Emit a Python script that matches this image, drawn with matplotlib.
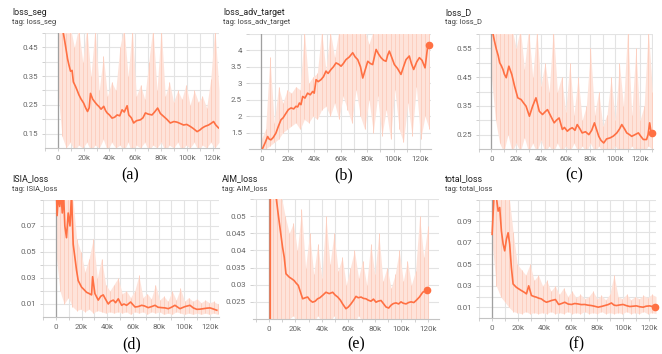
import numpy as np
import matplotlib.pyplot as plt
from matplotlib.ticker import FixedLocator, FuncFormatter

plt.rcParams['font.family'] = ['Roboto', 'DejaVu Sans']

# ---- данные (шаги в тысячах) ----
# (a) loss_seg
seg_x = [3.4, 5, 6, 7.5, 8.5, 9.8, 11, 12, 13.7, 15, 16.3, 18, 20, 21.5, 23, 24.3, 25.3, 27, 29, 30.5,
         31.7, 33.5, 35.6, 37, 38.2, 40, 42, 44, 46, 48, 49.8, 51.5, 53.7, 55, 57, 58.8, 61, 64, 66, 67.9,
         70, 73, 75, 77.4, 79.5, 82, 84.5, 87.2, 90, 92.4, 95, 97.5, 100, 102.7, 105, 108, 110, 111.8, 114, 116.9,
         119, 120.8, 122.5, 124.6]
seg_y = [0.52, 0.48, 0.453, 0.41, 0.39, 0.367, 0.37, 0.33, 0.314, 0.30, 0.285, 0.27, 0.256, 0.24, 0.227, 0.24,
         0.29, 0.27, 0.258, 0.25, 0.245, 0.235, 0.245, 0.23, 0.222, 0.215, 0.204, 0.207, 0.215, 0.212, 0.233,
         0.225, 0.247, 0.215, 0.205, 0.187, 0.195, 0.198, 0.205, 0.222, 0.218, 0.215, 0.225, 0.239, 0.22, 0.21,
         0.20, 0.187, 0.192, 0.19, 0.185, 0.18, 0.182, 0.175, 0.168, 0.157, 0.162, 0.169, 0.175, 0.18, 0.186,
         0.192, 0.18, 0.17]
seg_raw_lo = [0.30, 0.14, 0.10, 0.12, 0.09, 0.11, 0.10, 0.12, 0.09, 0.11, 0.10, 0.13, 0.09, 0.12, 0.10, 0.11,
              0.09, 0.12, 0.08, 0.11, 0.10, 0.12, 0.09, 0.11, 0.10, 0.12, 0.09, 0.11, 0.10, 0.12, 0.09, 0.11,
              0.10, 0.12, 0.09, 0.11, 0.10, 0.12, 0.10, 0.12]
seg_raw_hi = [0.50, 0.52, 0.50, 0.52, 0.45, 0.52, 0.40, 0.52, 0.35, 0.52, 0.30, 0.42, 0.28, 0.33, 0.30, 0.45,
              0.52, 0.35, 0.52, 0.28, 0.32, 0.27, 0.40, 0.52, 0.30, 0.52, 0.28, 0.33, 0.26, 0.30, 0.27, 0.32,
              0.25, 0.30, 0.26, 0.28, 0.24, 0.34, 0.52, 0.30]

# (b) loss_adv_target
adv_x = [1, 3, 4.8, 6, 7.3, 9, 11, 13, 14.9, 16.5, 18.7, 20.5, 22.5, 24.5, 26.2, 27.5, 28.8, 30, 31.3, 33,
         35, 37, 38.8, 40, 41.4, 43, 45.1, 47, 48.9, 50.5, 52.7, 54.5, 56.5, 58.5, 60.3, 62, 64, 66.5, 69.1, 71,
         72.9, 75, 76.7, 78.5, 80.5, 82.5, 84.2, 85.5, 86.8, 88.5, 90.5, 92.5, 94.3, 95.5, 96.8, 98.5, 100.6, 103,
         105.6, 107.5, 109.4, 111.9, 113.5, 115.2, 117.5, 119.5, 121.5, 123.8, 125.8, 127]
adv_y = [1.02, 1.2, 1.38, 1.3, 1.28, 1.35, 1.48, 1.7, 1.89, 1.95, 2.09, 2.2, 2.25, 2.22, 2.30, 2.28, 2.40, 2.35,
         2.60, 2.55, 2.70, 2.65, 2.75, 2.7, 3.11, 3.05, 3.11, 3.2, 3.37, 3.3, 3.42, 3.5, 3.62, 3.58, 3.52, 3.6,
         3.72, 3.8, 3.93, 3.8, 3.72, 3.5, 3.16, 3.4, 3.67, 3.6, 3.57, 3.8, 4.03, 3.9, 3.78, 3.7, 3.67, 3.85,
         3.98, 3.8, 3.57, 3.45, 3.27, 3.5, 3.72, 3.83, 3.6, 3.42, 3.65, 3.78, 3.7, 3.47, 4.13, 4.18]
adv_raw_lo = [1.0, 1.0, 1.1, 1.2, 1.3, 1.5, 1.6, 1.7, 1.8, 1.6, 1.9, 1.8, 2.0, 1.9, 2.2, 2.3, 2.0, 2.4, 1.9, 2.6,
              2.2, 1.8, 2.8, 2.0, 1.6, 2.5, 1.5, 2.6, 1.4, 2.2, 1.3, 2.8, 1.6, 1.2, 2.4, 1.4, 2.9, 1.3, 2.0, 1.6]
adv_raw_hi = [1.3, 1.6, 3.8, 1.8, 2.9, 2.4, 2.8, 2.7, 2.9, 2.8, 4.6, 3.0, 3.2, 3.3, 4.6, 3.4, 4.6, 3.8, 4.6, 4.6,
              4.6, 4.6, 4.6, 4.6, 4.6, 4.2, 4.6, 4.6, 4.6, 4.6, 4.6, 4.6, 4.6, 4.6, 4.6, 4.6, 4.6, 4.6, 4.6, 4.6]

# (c) loss_D
d_x = [1.3, 2.5, 4, 5.5, 6.7, 8, 9.3, 10.5, 12, 14.1, 16.5, 18.7, 21.3, 24, 26, 28, 30.7, 33.3, 36, 38.7,
       41.3, 43.5, 45.3, 48, 50.7, 52.5, 54.7, 57.3, 59, 61.3, 63.5, 65.3, 67.5, 69.3, 71.5, 73.3, 76, 78.7, 81,
       83.2, 86.7, 88.5, 90.7, 93, 96, 98.5, 101.3, 103.5, 105.3, 107.5, 109.3, 111.5, 113.3, 116, 118.7, 120.5,
       122.7, 125.3, 126.5, 127.8, 128.9, 129.9]
d_y = [0.60, 0.575, 0.547, 0.525, 0.50, 0.49, 0.477, 0.46, 0.448, 0.488, 0.459, 0.419, 0.378, 0.372, 0.36,
       0.349, 0.314, 0.349, 0.378, 0.331, 0.32, 0.33, 0.337, 0.314, 0.291, 0.30, 0.308, 0.268, 0.275, 0.262,
       0.27, 0.274, 0.265, 0.285, 0.27, 0.256, 0.26, 0.25, 0.265, 0.291, 0.244, 0.23, 0.221, 0.235, 0.239,
       0.245, 0.256, 0.27, 0.285, 0.27, 0.256, 0.25, 0.244, 0.25, 0.256, 0.245, 0.233, 0.233, 0.25, 0.291,
       0.26, 0.256]
d_raw_lo = [0.45, 0.30, 0.22, 0.19, 0.25, 0.19, 0.22, 0.19, 0.24, 0.19, 0.22, 0.19, 0.23, 0.19, 0.21, 0.19,
            0.22, 0.19, 0.21, 0.19, 0.22, 0.19, 0.21, 0.19, 0.22, 0.19, 0.21, 0.19, 0.20, 0.19, 0.21, 0.19,
            0.20, 0.19, 0.21, 0.19, 0.20, 0.19, 0.21, 0.20]
d_raw_hi = [0.62, 0.62, 0.62, 0.62, 0.60, 0.62, 0.55, 0.62, 0.48, 0.62, 0.45, 0.62, 0.42, 0.50, 0.40, 0.62,
            0.40, 0.45, 0.33, 0.50, 0.32, 0.45, 0.30, 0.35, 0.55, 0.32, 0.40, 0.28, 0.32, 0.45, 0.30, 0.50,
            0.35, 0.62, 0.32, 0.55, 0.30, 0.35, 0.62, 0.40]

# (d) ISIA_loss
isia_x = [0.5, 1, 2, 3, 4, 5, 6, 7, 8.3, 9.6, 11, 12.2, 13.5, 14.8, 16.1, 17.4, 20, 22, 23.9, 26, 27.8, 28.6,
          30.4, 33, 35, 36.9, 38.5, 40.8, 42.5, 44.7, 46.5, 48.6, 51.2, 53, 55.1, 58.2, 61.6, 64, 66.8, 69, 71.9,
          74.5, 77.2, 79.5, 82.4, 85, 87.5, 90, 92.7, 96.6, 100.5, 104.4, 107, 109.7, 112, 114.8, 117.5, 120,
          122.5, 125.3]
isia_y = [0.095, 0.078, 0.095, 0.085, 0.095, 0.08, 0.095, 0.07, 0.061, 0.08, 0.07, 0.095, 0.056, 0.046, 0.036,
          0.028, 0.023, 0.021, 0.019, 0.018, 0.017, 0.031, 0.018, 0.013, 0.016, 0.017, 0.014, 0.010, 0.012, 0.013,
          0.011, 0.014, 0.009, 0.010, 0.009, 0.0115, 0.0077, 0.008, 0.009, 0.0085, 0.0072, 0.008, 0.009, 0.0075,
          0.0072, 0.007, 0.0064, 0.0075, 0.009, 0.0064, 0.008, 0.009, 0.007, 0.0059, 0.006, 0.0064, 0.0068, 0.007,
          0.0062, 0.0052]
isia_raw_lo = [0.05, 0.02, 0.01, 0.015, 0.008, 0.005, 0.006, 0.004, 0.006, 0.003, 0.005, 0.004, 0.003, 0.004,
               0.003, 0.004, 0.003, 0.004, 0.002, 0.004, 0.003, 0.004, 0.002, 0.004, 0.003, 0.004, 0.002, 0.003,
               0.002, 0.004, 0.003, 0.002, 0.003, 0.002, 0.003, 0.002, 0.003, 0.002, 0.003, 0.002]
isia_raw_hi = [0.095, 0.095, 0.095, 0.095, 0.095, 0.06, 0.05, 0.035, 0.045, 0.06, 0.03, 0.045, 0.025, 0.02,
               0.025, 0.03, 0.018, 0.02, 0.015, 0.02, 0.032, 0.015, 0.018, 0.014, 0.025, 0.013, 0.016, 0.012,
               0.02, 0.013, 0.022, 0.012, 0.015, 0.012, 0.014, 0.011, 0.013, 0.011, 0.012, 0.010]

# (e) AIM_loss
aim_x = [1.0, 1.1, 3, 5.3, 7, 9, 10.3, 11.6, 12.9, 15.4, 17, 19.1, 20.5, 22.2, 25.5, 27.5, 29.3, 31, 33, 35,
         36.8, 38.5, 40.6, 43.1, 45.6, 48.2, 50, 52, 54, 55.7, 58.2, 60, 62, 64, 65.8, 67.5, 69.6, 71.5, 73.3, 75,
         77.1, 79, 80.9, 82.5, 84.7, 86.5, 88.5, 90.5, 92.2, 94, 96, 98, 99.8, 101.5, 103.6, 105.5, 107.4, 109.5,
         111.2, 113.7, 116.2, 118.7, 119.5]
aim_y = [0.015, 0.06, 0.06, 0.056, 0.0507, 0.0448, 0.041, 0.038, 0.0332, 0.0322, 0.0318, 0.0312, 0.0305, 0.0298,
         0.0259, 0.0262, 0.0264, 0.0255, 0.0249, 0.0252, 0.0259, 0.0262, 0.0269, 0.0278, 0.0274, 0.0278, 0.027,
         0.0264, 0.0255, 0.0244, 0.0230, 0.0235, 0.0244, 0.0255, 0.0266, 0.0262, 0.0264, 0.026, 0.0259, 0.0255,
         0.0252, 0.0258, 0.0249, 0.0252, 0.0254, 0.0245, 0.0235, 0.0232, 0.024, 0.0245, 0.0247, 0.0244, 0.025,
         0.0246, 0.0244, 0.0248, 0.025, 0.0248, 0.0254, 0.0264, 0.0278, 0.0283, 0.0286]
aim_raw_lo = [0.019, 0.019, 0.019, 0.019, 0.019, 0.020, 0.021, 0.019, 0.020, 0.019, 0.020, 0.019, 0.021, 0.019,
              0.020, 0.019, 0.021, 0.019, 0.020, 0.019, 0.020, 0.019, 0.021, 0.019, 0.020, 0.019, 0.020, 0.019,
              0.020, 0.019, 0.020, 0.019, 0.020, 0.019, 0.020, 0.019, 0.020, 0.019, 0.020, 0.019]
aim_raw_hi = [0.056, 0.056, 0.056, 0.056, 0.05, 0.045, 0.048, 0.04, 0.052, 0.035, 0.045, 0.033, 0.042, 0.032,
              0.05, 0.036, 0.045, 0.034, 0.038, 0.030, 0.035, 0.040, 0.032, 0.037, 0.030, 0.042, 0.033, 0.045,
              0.031, 0.035, 0.029, 0.033, 0.040, 0.031, 0.037, 0.030, 0.034, 0.050, 0.038, 0.047]

# (f) total_loss
tot_x = [0, 1.5, 3, 4.6, 5.8, 7.1, 8.4, 9.6, 10.9, 12.2, 13.4, 14.7, 16, 18.5, 20.5, 22.3, 24.5, 26.2, 27.9, 30,
         32, 33.8, 35.5, 37.6, 39.5, 41.4, 43.5, 45.2, 48.3, 50.8, 53, 55.4, 58, 60.5, 63, 65.6, 68, 70.7, 73,
         75.7, 78, 80.9, 83.5, 85.9, 88.5, 91, 93, 94.8, 97.5, 99.9, 102.5, 105, 107.5, 110.1, 112.5, 115.2,
         117.5, 120.2, 122, 124]
tot_y = [0.078, 0.115, 0.115, 0.0996, 0.103, 0.081, 0.069, 0.0626, 0.0733, 0.0795, 0.069, 0.047, 0.0317, 0.0286,
         0.027, 0.0256, 0.024, 0.0225, 0.030, 0.021, 0.020, 0.0194, 0.0185, 0.0178, 0.016, 0.0147, 0.0155, 0.0163,
         0.0172, 0.0126, 0.0135, 0.0147, 0.013, 0.0126, 0.0135, 0.0131, 0.0125, 0.0126, 0.012, 0.0116, 0.011,
         0.0101, 0.0108, 0.0116, 0.0125, 0.014, 0.012, 0.0116, 0.0122, 0.0126, 0.0115, 0.0107, 0.011, 0.0113,
         0.0105, 0.0101, 0.011, 0.0113, 0.0108, 0.0107]
tot_raw_lo = [0.07, 0.03, 0.02, 0.015, 0.01, 0.006, 0.005, 0.004, 0.006, 0.004, 0.005, 0.004, 0.005, 0.004,
              0.006, 0.004, 0.005, 0.004, 0.006, 0.004, 0.005, 0.004, 0.006, 0.004, 0.005, 0.004, 0.006, 0.004,
              0.005, 0.004, 0.005, 0.004, 0.006, 0.004, 0.005, 0.004, 0.006, 0.004, 0.005, 0.004]
tot_raw_hi = [0.115, 0.115, 0.115, 0.115, 0.115, 0.08, 0.05, 0.045, 0.04, 0.05, 0.035, 0.04, 0.03, 0.035, 0.025,
              0.03, 0.022, 0.028, 0.02, 0.025, 0.019, 0.022, 0.018, 0.02, 0.025, 0.018, 0.021, 0.017, 0.022,
              0.04, 0.02, 0.018, 0.022, 0.017, 0.02, 0.018, 0.021, 0.019, 0.022, 0.02]

ORANGE = '#ff7043'
RAW = '#fccfc0'
FILL = '#fee3da'
GRID = '#e3e3e3'

W, H = 662, 354
fig = plt.figure(figsize=(W / 100, H / 100), dpi=100)


def px_axes(l, t, r, b):
    return fig.add_axes([l / W, 1 - b / H, (r - l) / W, (b - t) / H])


def draw(ax, sx, sy, lo, hi, raw_end, xlim, ylim, ylab, ygrid, dot):
    xr = np.linspace(0, raw_end, len(lo))
    # сырые значения: бледная заливка + вертикальные штрихи
    ax.fill_between(xr, lo, hi, color=FILL, lw=0, zorder=1)
    ax.vlines(xr, lo, hi, color=RAW, lw=0.7, zorder=2)
    ax.axvline(0, color='#a0a0a0', lw=0.9, zorder=3)
    ax.plot(sx, sy, color=ORANGE, lw=1.2, zorder=4)
    if dot:
        ax.plot(sx[-1], sy[-1], 'o', color=ORANGE, ms=4.5, zorder=5, clip_on=False)
    ax.set_xlim(xlim)
    ax.set_ylim(ylim)
    ax.xaxis.set_major_locator(FixedLocator([0, 20, 40, 60, 80, 100, 120]))
    ax.xaxis.set_minor_locator(FixedLocator([-10, 10, 30, 50, 70, 90, 110, 130]))
    ax.xaxis.set_major_formatter(FuncFormatter(lambda v, p: '0' if v == 0 else f'{v:.0f}k'))
    ax.yaxis.set_major_locator(FixedLocator(ylab))
    ax.yaxis.set_minor_locator(FixedLocator(ygrid))
    ax.yaxis.set_major_formatter(FuncFormatter(lambda v, p: f'{v:g}'))
    ax.grid(True, which='both', color=GRID, lw=0.8, zorder=0)
    ax.set_axisbelow(True)
    for s in ['top', 'right', 'left']:
        ax.spines[s].set_visible(False)
    ax.spines['bottom'].set_color('#c4c4c4')
    ax.spines['bottom'].set_linewidth(0.8)
    ax.tick_params(which='both', length=2, width=0.7, color='#d0d0d0',
                   labelsize=5.8, labelcolor='#666666', pad=3)


panels = [
    (px_axes(45, 33, 219, 148), seg_x, seg_y, seg_raw_lo, seg_raw_hi, 125, (-10, 125), (0.10, 0.50),
     [0.15, 0.25, 0.35, 0.45], [0.2, 0.3, 0.4, 0.5], False),
    (px_axes(249, 34, 431, 149), adv_x, adv_y, adv_raw_lo, adv_raw_hi, 127, (-9.3, 128.3), (1.0, 4.5),
     [1.5, 2, 2.5, 3, 3.5, 4], [4.5], True),
    (px_axes(479, 34, 653, 149), d_x, d_y, d_raw_lo, d_raw_hi, 130, (-10, 130.5), (0.2, 0.6),
     [0.25, 0.35, 0.45, 0.55], [0.3, 0.4, 0.5, 0.6], True),
    (px_axes(43, 200, 219, 317), isia_x, isia_y, isia_raw_lo, isia_raw_hi, 126, (-10, 127), (0, 0.09),
     [0.01, 0.03, 0.05, 0.07], [0.02, 0.04, 0.06, 0.08, 0.09], False),
    (px_axes(253, 199, 439, 319), aim_x, aim_y, aim_raw_lo, aim_raw_hi, 120, (-12, 128.5), (0.02, 0.055),
     [0.025, 0.03, 0.035, 0.04, 0.045, 0.05], [0.055], True),
    (px_axes(479, 200, 656, 318), tot_x, tot_y, tot_raw_lo, tot_raw_hi, 125, (-10, 125), (0, 0.11),
     [0.01, 0.03, 0.05, 0.07, 0.09], [0.02, 0.04, 0.06, 0.08, 0.1, 0.11], True),
]
for p in panels:
    draw(*p)

titles = ['loss_seg', 'loss_adv_target', 'loss_D', 'ISIA_loss', 'AIM_loss', 'total_loss']
title_pos = [(12, 12.5), (223, 12.5), (445, 12.5), (12, 179), (222, 179), (445, 179)]
for name, (x, y) in zip(titles, title_pos):
    fig.text(x / W, 1 - y / H, name, fontsize=6.4, color='#212121', va='center', ha='left')
    fig.text(x / W, 1 - (y + 10.5) / H, 'tag: ' + name, fontsize=5.4, color='#424242', va='center', ha='left')

letters = ['(a)', '(b)', '(c)', '(d)', '(e)', '(f)']
letter_pos = [(130, 175), (344, 175), (574, 175), (132, 344), (356, 344), (576, 344)]
for s, (x, y) in zip(letters, letter_pos):
    fig.text(x / W, 1 - y / H, s, fontsize=11.5, family=['Liberation Serif', 'DejaVu Serif'],
             ha='center', va='center', color='black')

fig.savefig('out.png', dpi=100)
